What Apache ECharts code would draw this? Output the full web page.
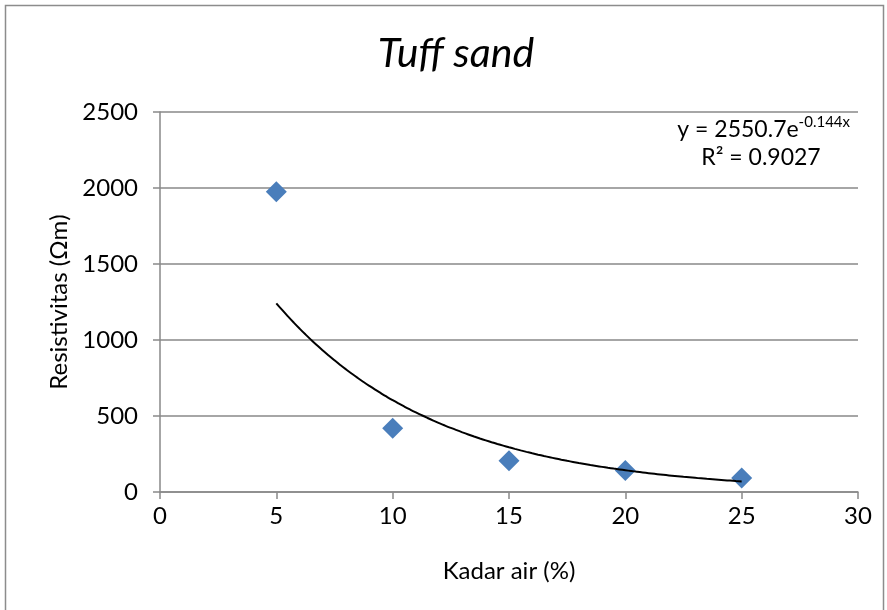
<!DOCTYPE html>
<html>
<head>
<meta charset="utf-8">
<script src="https://cdn.jsdelivr.net/npm/echarts@6/dist/echarts.min.js"></script>
<style>
  html, body { margin: 0; padding: 0; background: #fff; }
  #chart { width: 887px; height: 610px; }
</style>
</head>
<body>
<div id="chart"></div>
<script>
// Measured resistivity against water content
const kadarAir = [5, 10, 15, 20, 25];
const resistivitas = [1975, 420, 205, 142, 92];

// Exponential trendline y = a * e^(b x), shown over the measured range
const fitA = 2550.7;
const fitB = -0.144;
const fitR2 = 0.9027;
const fitRange = [5, 25];

const xTicks = [0, 30, 5];       // min, max, interval
const yTicks = [0, 2500, 500];

const trend = [];
for (let x = fitRange[0]; x <= fitRange[1] + 1e-9; x += 0.25) {
  trend.push([x, fitA * Math.exp(fitB * x)]);
}

const FONT = 'Lato, "Open Sans", sans-serif';
const chart = echarts.init(document.getElementById('chart'));

chart.setOption({
  backgroundColor: '#ffffff',
  animation: false,
  grid: { left: 160, right: 29, top: 112, bottom: 118 },
  xAxis: {
    type: 'value',
    min: xTicks[0], max: xTicks[1], interval: xTicks[2],
    name: 'Kadar air (%)',
    nameLocation: 'middle',
    nameGap: 67,
    nameTextStyle: { fontFamily: FONT, fontSize: 24, color: '#000' },
    axisLine: { show: true, lineStyle: { color: '#898989', width: 1.5 } },
    axisTick: { show: true, length: 7, lineStyle: { color: '#898989', width: 1.5 } },
    axisLabel: { fontFamily: FONT, fontSize: 24, color: '#000', margin: 12, formatter: v => String(v) },
    splitLine: { show: false }
  },
  yAxis: {
    type: 'value',
    min: yTicks[0], max: yTicks[1], interval: yTicks[2],
    name: 'Resistivitas (Ωm)',
    nameLocation: 'middle',
    nameGap: 85,
    nameRotate: 90,
    nameTextStyle: { fontFamily: FONT, fontSize: 24, color: '#000' },
    axisLine: { show: true, lineStyle: { color: '#898989', width: 1.5 } },
    axisTick: { show: true, length: 7, lineStyle: { color: '#898989', width: 1.5 } },
    axisLabel: { fontFamily: FONT, fontSize: 24, color: '#000', margin: 22, formatter: v => String(v) },
    splitLine: { show: true, lineStyle: { color: '#898989', width: 1.5 } }
  },
  series: [
    {
      name: 'Trendline',
      type: 'line',
      data: trend,
      showSymbol: false,
      smooth: true,
      lineStyle: { color: '#000', width: 2 },
      z: 3
    },
    {
      name: 'Resistivitas',
      type: 'scatter',
      data: kadarAir.map((x, i) => [x, resistivitas[i]]),
      symbol: 'diamond',
      symbolSize: 21,
      itemStyle: { color: '#4a7ebb', opacity: 1 },
      z: 2
    }
  ],
  graphic: [
    {
      type: 'rect',
      shape: { x: 5.5, y: 5.5, width: 878, height: 620 },
      style: { fill: 'none', stroke: '#8c8c8c', lineWidth: 1.5 },
      silent: true
    },
    {
      type: 'text',
      x: 456,
      y: 54,
      style: {
        text: 'Tuff sand',
        fontFamily: FONT, fontStyle: 'italic', fontSize: 41, fill: '#000',
        textAlign: 'center', textVerticalAlign: 'middle'
      }
    },
    {
      type: 'text',
      x: 850,
      y: 128,
      style: {
        text: '{b|y = ' + fitA + 'e}{s|' + fitB + 'x}',
        textAlign: 'right', textVerticalAlign: 'middle',
        rich: {
          b: { fontFamily: FONT, fontSize: 23, color: '#000', verticalAlign: 'bottom' },
          s: { fontFamily: FONT, fontSize: 15, color: '#000', verticalAlign: 'top', padding: [0, 0, 12, 0] }
        }
      }
    },
    {
      type: 'text',
      x: 761,
      y: 158,
      style: {
        text: 'R² = ' + fitR2,
        fontFamily: FONT, fontSize: 23, fill: '#000',
        textAlign: 'center', textVerticalAlign: 'middle'
      }
    }
  ]
});
</script>
</body>
</html>
